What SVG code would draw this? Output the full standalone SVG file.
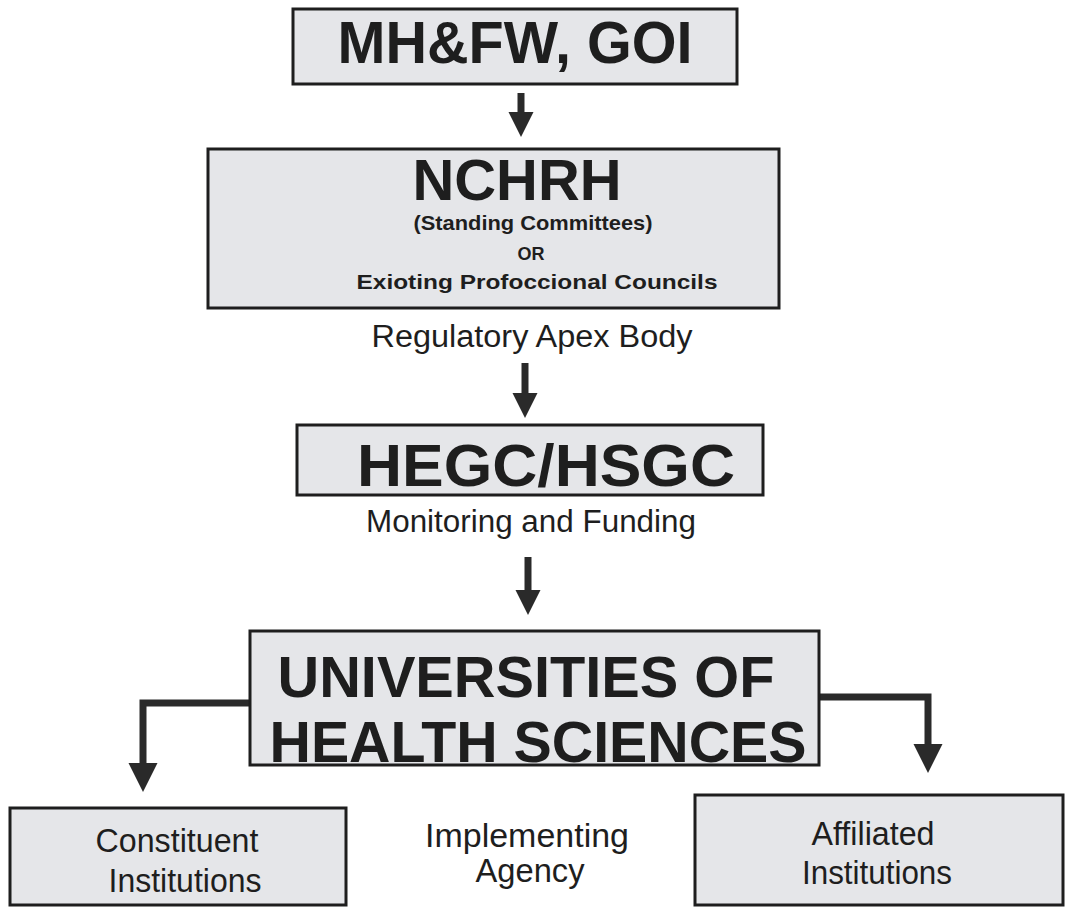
<svg xmlns="http://www.w3.org/2000/svg" width="1066" height="908" viewBox="0 0 1066 908">
<style>
.box{fill:#e5e6e9;stroke:#1e1e1e;stroke-width:3}
.t{font-family:"Liberation Sans",Arial,Helvetica,sans-serif;fill:#1e1e1e;text-anchor:middle}
.b{font-weight:bold}
.c{fill:none;stroke:#2a2a2a;stroke-width:7;stroke-linejoin:miter}
</style>
<defs>
<marker id="ah" markerUnits="userSpaceOnUse" markerWidth="26" markerHeight="26" refX="0" refY="12.5" orient="auto" viewBox="0 0 26 25">
<path d="M0,0 L25,12.5 L0,25 z" fill="#2a2a2a"/>
</marker>
<marker id="ahb" markerUnits="userSpaceOnUse" markerWidth="30" markerHeight="30" refX="0" refY="14.5" orient="auto" viewBox="0 0 30 29">
<path d="M0,0 L29,14.5 L0,29 z" fill="#2a2a2a"/>
</marker>
</defs>
<rect width="1066" height="908" fill="#ffffff"/>

<g id="connectors">
<path class="c" d="M521,93 V112" marker-end="url(#ah)"/>
<path class="c" d="M525,363 V393" marker-end="url(#ah)"/>
<path class="c" d="M528,557 V590" marker-end="url(#ah)"/>
<path class="c" d="M250,703 H143 V763" marker-end="url(#ahb)"/>
<path class="c" d="M819,697 H928 V744" marker-end="url(#ahb)"/>
</g>

<g id="mhfw">
<rect class="box" x="293" y="9" width="444" height="75"/>
<text class="t b" x="515" y="63" font-size="59" textLength="355" lengthAdjust="spacingAndGlyphs">MH&amp;FW, GOI</text>
</g>

<g id="nchrh">
<rect class="box" x="208" y="149" width="571" height="159"/>
<text class="t b" x="517" y="200" font-size="57" textLength="209" lengthAdjust="spacingAndGlyphs">NCHRH</text>
<text class="t b" x="533" y="230" font-size="21" textLength="239" lengthAdjust="spacingAndGlyphs">(Standing Committees)</text>
<text class="t" x="531" y="260" font-size="18" font-weight="bold">OR</text>
<text class="t b" x="537" y="289" font-size="21" textLength="361" lengthAdjust="spacingAndGlyphs">Exioting Profoccional Councils</text>
</g>

<g id="regulatory-label">
<text class="t" x="532" y="347" font-size="31" textLength="321" lengthAdjust="spacingAndGlyphs">Regulatory Apex Body</text>
</g>

<g id="hegc">
<rect class="box" x="297" y="425" width="466" height="70"/>
<text class="t b" x="546" y="486" font-size="60" textLength="378" lengthAdjust="spacingAndGlyphs">HEGC/HSGC</text>
</g>

<g id="monitoring-label">
<text class="t" x="531" y="532" font-size="31" textLength="330" lengthAdjust="spacingAndGlyphs">Monitoring and Funding</text>
</g>

<g id="universities">
<rect class="box" x="250" y="631" width="569" height="134"/>
<text class="t b" x="526" y="697" font-size="58" textLength="497" lengthAdjust="spacingAndGlyphs">UNIVERSITIES OF</text>
<text class="t b" x="538" y="762" font-size="58" textLength="537" lengthAdjust="spacingAndGlyphs">HEALTH SCIENCES</text>
</g>

<g id="constituent">
<rect class="box" x="10" y="808" width="336" height="97"/>
<text class="t" x="177" y="852" font-size="34" textLength="163" lengthAdjust="spacingAndGlyphs">Constituent</text>
<text class="t" x="185" y="892" font-size="34" textLength="153" lengthAdjust="spacingAndGlyphs">Institutions</text>
</g>

<g id="implementing-label">
<text class="t" x="527" y="847" font-size="34" textLength="204" lengthAdjust="spacingAndGlyphs">Implementing</text>
<text class="t" x="530" y="882" font-size="34" textLength="109" lengthAdjust="spacingAndGlyphs">Agency</text>
</g>

<g id="affiliated">
<rect class="box" x="695" y="795" width="368" height="110"/>
<text class="t" x="873" y="845" font-size="34" textLength="123" lengthAdjust="spacingAndGlyphs">Affiliated</text>
<text class="t" x="877" y="884" font-size="34" textLength="150" lengthAdjust="spacingAndGlyphs">Institutions</text>
</g>
</svg>
